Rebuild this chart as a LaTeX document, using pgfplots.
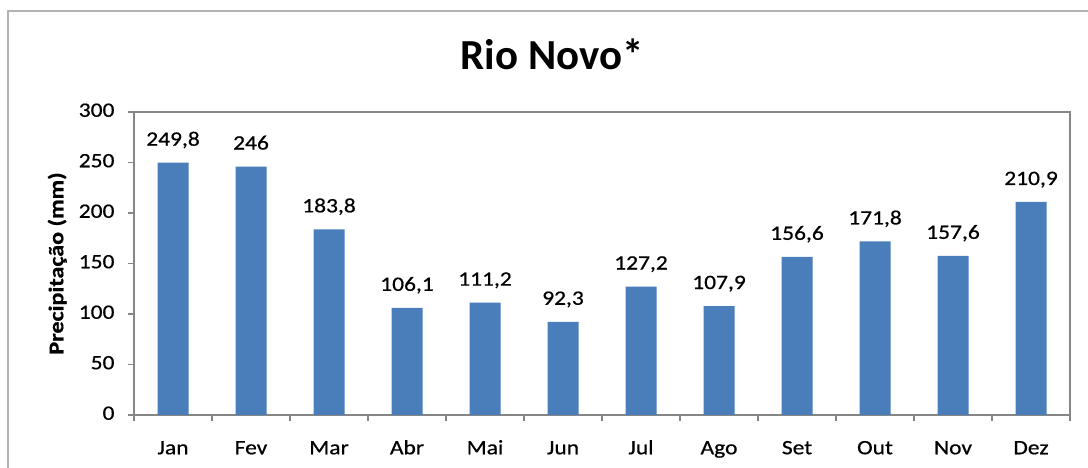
\documentclass[border=0pt]{standalone}
\usepackage{pgfplots}
\pgfplotsset{compat=1.18}
\usepackage{fontspec}
\setmainfont{Carlito}
% the screenshot's small text is rendered slightly wider and heavier than Calibri
\newfontfamily\labfont{Carlito}[FakeStretch=1.15, FakeBold=0.6]
\definecolor{barblue}{HTML}{4A7EBB}
\definecolor{axisgray}{HTML}{868686}
\begin{document}
\begin{tikzpicture}[x=1bp,y=1bp]
\useasboundingbox (0,0) rectangle (1088,468);
% chart area frame (only left and top visible in the crop)
\draw[line width=1.5bp, color=gray!60] (8,0) -- (8,457) -- (1088,457);
\begin{axis}[
    at={(134bp,53bp)}, anchor=south west,
    scale only axis,
    width=936bp, height=303bp,
    ybar, bar width=31bp,
    xmin=-0.5, xmax=11.5,
    ymin=0, ymax=300,
    ytick={0,50,...,300},
    xtick={0,...,11},
    xticklabels={Jan,Fev,Mar,Abr,Mai,Jun,Jul,Ago,Set,Out,Nov,Dez},
    minor xtick={-0.5,0.5,...,11.5},
    xtick style={draw=none},
    minor x tick style={draw=axisgray, line width=1.2bp},
    y tick style={draw=axisgray, line width=1.2bp},
    major tick length=6bp, minor tick length=6bp,
    tick align=outside, tick pos=left,
    axis line style={draw=axisgray, line width=1.5bp},
    ticklabel style={font=\labfont\fontsize{20.5}{24}\selectfont},
    /pgf/number format/assume math mode=true,
    typeset ticklabels with strut,
    xticklabel style={yshift=-13bp},
    yticklabel style={xshift=-10bp},
    title={\textbf{Rio Novo*}},
    title style={at={(rel axis cs:0.4466,1.17)}, anchor=center, font=\fontsize{43}{48}\selectfont},
    ylabel={\textbf{Precipitação (mm)}},
    ylabel style={at={(rel axis cs:-0.082,0.5)}, anchor=center, font=\labfont\fontsize{21}{24}\selectfont},
    nodes near coords,
    point meta=explicit symbolic,
    every node near coord/.append style={font=\labfont\fontsize{20.5}{24}\selectfont, color=black, anchor=base, yshift=17bp},
]
\addplot[fill=barblue, draw=none] table[meta=lab] {
x y lab
0 249.8 249,8
1 246 246
2 183.8 183,8
3 106.1 106,1
4 111.2 111,2
5 92.3 92,3
6 127.2 127,2
7 107.9 107,9
8 156.6 156,6
9 171.8 171,8
10 157.6 157,6
11 210.9 210,9
};
\end{axis}
% plot-area border on top and right
\draw[axisgray, line width=1.8bp] (134,356) -- (1070,356) -- (1070,53);
\end{tikzpicture}
\end{document}
